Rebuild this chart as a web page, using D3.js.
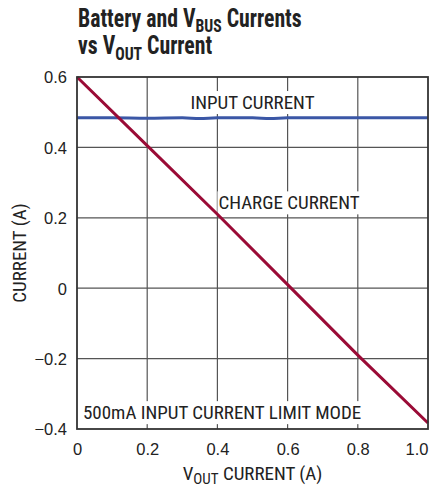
<!DOCTYPE html>
<html>
<head>
<meta charset="utf-8">
<script src="https://cdn.jsdelivr.net/npm/d3@7"></script>
<style>
  body { margin: 0; background: #fff; }
  text { font-family: "Roboto Condensed", "Liberation Sans Narrow", sans-serif; fill: #222; }
</style>
</head>
<body>
<div id="container"></div>
<script>
const width = 440;
const height = 491;
const margin = { top: 77, right: 12, bottom: 62, left: 77 };

// data
const xTicks = [0, 0.2, 0.4, 0.6, 0.8, 1.0];
const yTicks = [-0.4, -0.2, 0, 0.2, 0.4, 0.6];
const xTickLabels = ["0", "0.2", "0.4", "0.6", "0.8", "1.0"];
const yTickLabels = ["\u22120.4", "\u22120.2", "0", "0.2", "0.4", "0.6"];

const inputVout = [0, 0.1, 0.2, 0.3, 0.35, 0.4, 0.5, 0.55, 0.6, 0.7, 0.8, 0.9, 1.0];
const inputCurrent = [0.484, 0.484, 0.483, 0.484, 0.482, 0.484, 0.484, 0.482, 0.484, 0.484, 0.484, 0.484, 0.484];

const chargeVout = [0, 0.2, 0.4, 0.6, 0.8, 1.0];
const chargeCurrent = [0.6, 0.405, 0.21, 0.01, -0.19, -0.383];

const svg = d3.select("#container").append("svg")
  .attr("width", width)
  .attr("height", height);

const x = d3.scaleLinear().domain([0, 1]).range([margin.left, width - margin.right]);
const y = d3.scaleLinear().domain([-0.4, 0.6]).range([height - margin.bottom, margin.top]);

//----------------------------GRID-----------------------------//
svg.append("g")
  .selectAll("line")
  .data(xTicks.slice(1, -1))
  .enter().append("line")
  .attr("x1", d => x(d)).attr("x2", d => x(d))
  .attr("y1", y(0.6)).attr("y2", y(-0.4))
  .attr("stroke", "#555").attr("stroke-width", 1.2);

svg.append("g")
  .selectAll("line")
  .data(yTicks.slice(1, -1))
  .enter().append("line")
  .attr("x1", x(0)).attr("x2", x(1))
  .attr("y1", d => y(d)).attr("y2", d => y(d))
  .attr("stroke", "#555").attr("stroke-width", 1.2);

//----------------------------LABELS IN PLOT------------------//
const plotLabels = [
  { text: "INPUT CURRENT", vx: 0.5, vy: 0.509, anchor: "middle" },
  { text: "CHARGE CURRENT", vx: 0.403, vy: 0.224, anchor: "start" },
  { text: "500mA INPUT CURRENT LIMIT MODE", vx: 0.017, vy: -0.372, anchor: "start" }
];

const lg = svg.append("g");
plotLabels.forEach(l => {
  const t = lg.append("text")
    .attr("x", x(l.vx)).attr("y", y(l.vy))
    .attr("text-anchor", l.anchor)
    .style("font-size", "19px")
    .text(l.text);
  const b = t.node().getBBox();
  lg.insert("rect", "text")
    .attr("x", b.x - 1).attr("y", b.y)
    .attr("width", b.width + 2).attr("height", b.height)
    .attr("fill", "#fff");
});

//----------------------------LINES-----------------------------//
const line = d3.line().x(d => x(d[0])).y(d => y(d[1]));

svg.append("path")
  .datum(inputVout.map((v, i) => [v, inputCurrent[i]]))
  .attr("d", d3.line().curve(d3.curveMonotoneX).x(d => x(d[0])).y(d => y(d[1])))
  .attr("fill", "none").attr("stroke", "#3b57a6").attr("stroke-width", 3);

svg.append("path")
  .datum(chargeVout.map((v, i) => [v, chargeCurrent[i]]))
  .attr("d", line)
  .attr("fill", "none").attr("stroke", "#9a0b36").attr("stroke-width", 3);

//----------------------------FRAME-----------------------------//
svg.append("rect")
  .attr("x", x(0)).attr("y", y(0.6))
  .attr("width", x(1) - x(0)).attr("height", y(-0.4) - y(0.6))
  .attr("fill", "none").attr("stroke", "#333").attr("stroke-width", 1.8);

//-----------------------------AXES-----------------------------//
const xaxis = d3.axisBottom(x).tickValues(xTicks)
  .tickFormat((d, i) => xTickLabels[i]).tickSize(0).tickPadding(14);
const yaxis = d3.axisLeft(y).tickValues(yTicks)
  .tickFormat((d, i) => yTickLabels[i]).tickSize(0).tickPadding(10);

const gx = svg.append("g").attr("transform", "translate(0," + y(-0.4) + ")").call(xaxis);
const gy = svg.append("g").attr("transform", "translate(" + x(0) + ",0)").call(yaxis);
[gx, gy].forEach(g => {
  g.select(".domain").remove();
  g.selectAll("text").style("font-size", "16.5px")
    .style("font-family", "'Liberation Sans', Arial, sans-serif").attr("fill", "#222");
});
gx.selectAll("text").attr("dy", "0.71em")
  .attr("text-anchor", (d, i) => i === xTicks.length - 1 ? "end" : "middle");
gy.selectAll("text").attr("dy", "0.36em");

// axis titles
const xt = svg.append("text")
  .attr("x", x(0.5)).attr("y", 480)
  .attr("text-anchor", "middle")
  .style("font-size", "19px");
xt.append("tspan").text("V");
xt.append("tspan").attr("dy", 4).style("font-size", "15px").text("OUT");
xt.append("tspan").attr("dy", -4).text(" CURRENT (A)");

svg.append("text")
  .attr("transform", "translate(26," + y(0.1) + ") rotate(-90)")
  .attr("text-anchor", "middle")
  .style("font-size", "19px")
  .text("CURRENT (A)");

// title
const title = svg.append("g")
  .attr("transform", "translate(78,0) scale(0.87,1)")
  .style("font-weight", "bold");
const t1 = title.append("text").attr("x", 0).attr("y", 27).style("font-size", "25px");
t1.append("tspan").text("Battery and V");
t1.append("tspan").attr("dy", 5).style("font-size", "18px").text("BUS");
t1.append("tspan").attr("dy", -5).text(" Currents");
const t2 = title.append("text").attr("x", 0).attr("y", 54).style("font-size", "25px");
t2.append("tspan").text("vs V");
t2.append("tspan").attr("dy", 6).style("font-size", "18px").text("OUT");
t2.append("tspan").attr("dy", -6).text(" Current");
</script>
</body>
</html>
